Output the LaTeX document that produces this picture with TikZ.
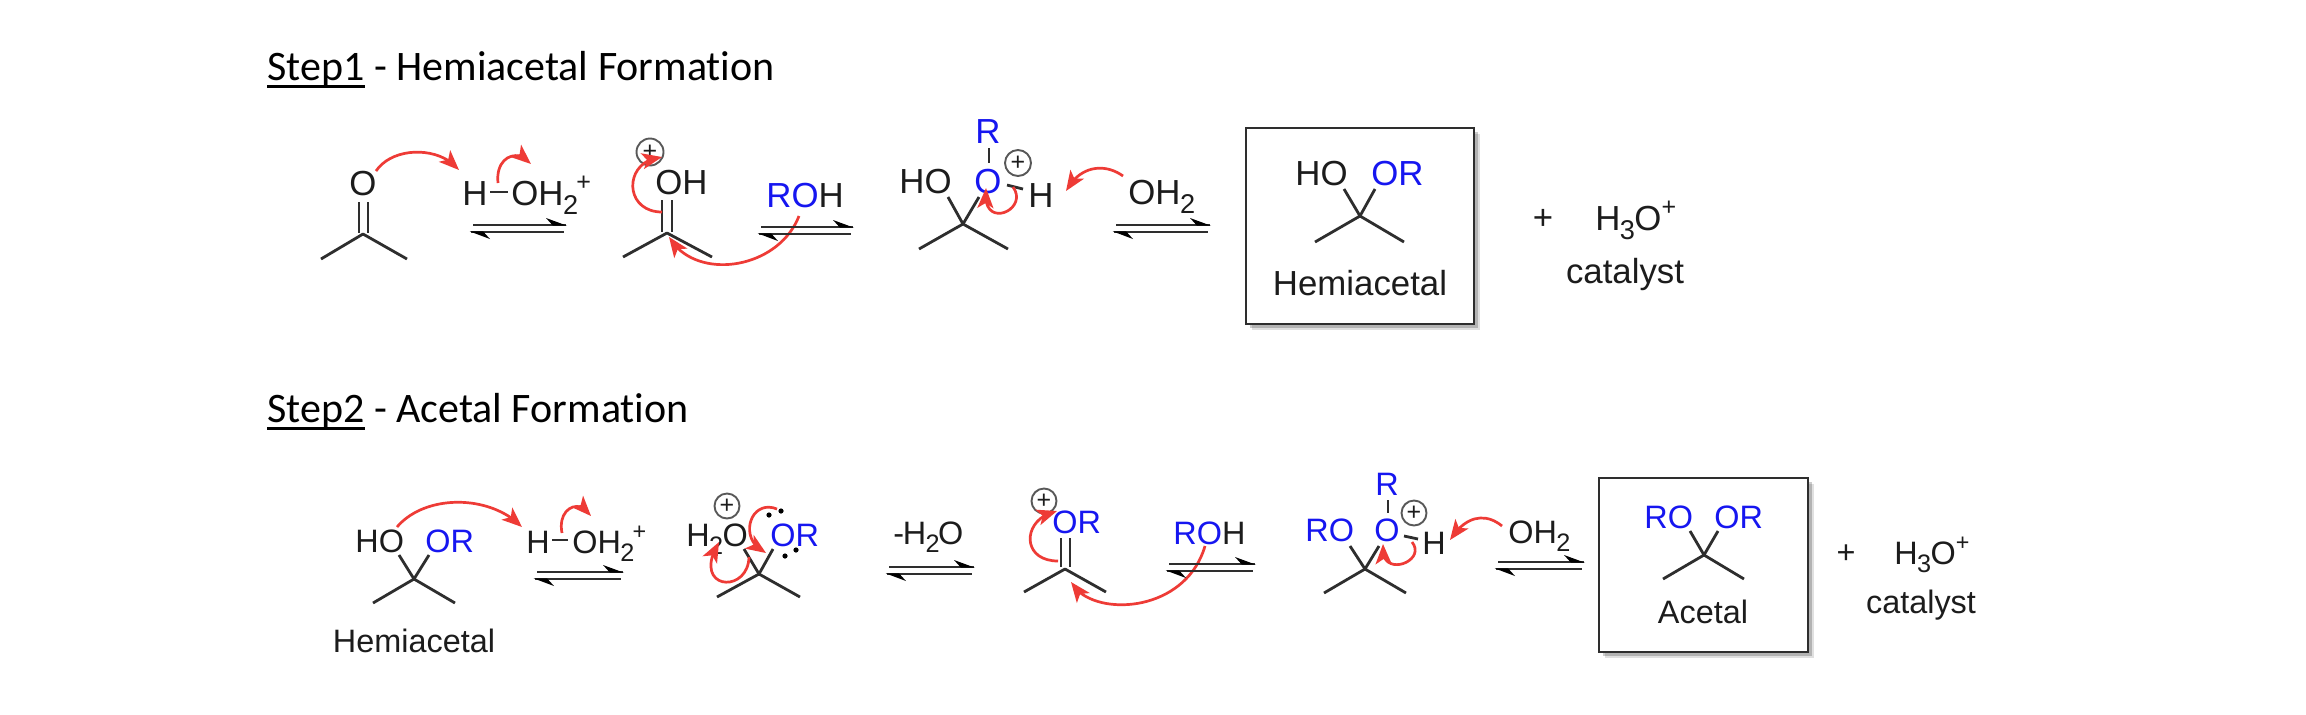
\documentclass[tikz,border=0pt]{standalone}
\usepackage{fontspec}
\setmainfont{Liberation Sans}
\newfontfamily\headfont[Ligatures=NoCommon]{Carlito}
\usetikzlibrary{arrows.meta,bending,shadows}
\definecolor{ink}{HTML}{1C1C1C}
\definecolor{bondc}{HTML}{2E2E2E}
\definecolor{molblue}{HTML}{1616F0}
\definecolor{curlyred}{HTML}{EE3B36}
\newcommand{\lo}[1]{\kern-.3pt\raisebox{-.26em}{\scalebox{.78}{#1}}\kern-.3pt}
\newcommand{\hi}[1]{\raisebox{.42em}{\scalebox{.72}{#1}}}
\newcommand{\bl}[1]{{\color{molblue}#1}}
\newsavebox\ulbox
\newcommand{\ulined}[1]{\sbox\ulbox{#1}\rlap{\raisebox{-4.2pt}{\rule{\wd\ulbox}{1.5pt}}}\usebox\ulbox}
\tikzset{
  x=0.5pt,y=-0.5pt,
  lab/.style={anchor=base west,inner sep=0pt,text=ink},
  clab/.style={anchor=base,inner sep=0pt,text=ink},
  ra/.style={font=\fontsize{17.4}{20}\selectfont},
  rb/.style={font=\fontsize{16.2}{19}\selectfont},
  head/.style={anchor=base west,inner sep=0pt,text=black,font=\headfont\fontsize{21}{25}\selectfont},
  bondline/.style={draw=bondc,line width=1.4pt},
  eqline/.style={draw=bondc,line width=1.3pt},
  eqhead/.style={fill=black},
  curly/.style={draw=curlyred,line width=1.35pt,-{Stealth[length=10pt,width=8pt,inset=2.5pt,flex=0.7]}},
  pluscirc/.style={circle,draw=bondc!80,line width=.95pt,minimum size=12.5pt,inner sep=0pt,text=ink,font=\fontsize{12.5}{12.5}\selectfont},
  prodbox/.style={draw=bondc,line width=1.4pt,fill=white,inner sep=0pt,
    drop shadow={shadow xshift=3pt,shadow yshift=-3pt,opacity=.12,fill=black},
    drop shadow={shadow xshift=1.8pt,shadow yshift=-1.8pt,opacity=.2,fill=black}},
}
% name, start, end
\newcommand{\bond}[3]{\coordinate (#1s) at #2; \coordinate (#1e) at #3; \draw[bondline] (#1s) -- (#1e);}
% name, centre, left end, right end
\newcommand{\skel}[4]{\coordinate (#1c) at #2; \coordinate (#1l) at #3; \coordinate (#1r) at #4;
  \draw[bondline,line join=round] (#1l) -- (#1c) -- (#1r);}
% name, x left top, x right top, y top
\newcommand{\equil}[4]{%
  \coordinate (#1a) at (#2,#4); \coordinate (#1b) at (#3,#4);
  \coordinate (#1d) at (#2-2.5,#4+7); \coordinate (#1f) at (#3-2.5,#4+7);
  \draw[eqline] (#1a) -- (#1b);
  \draw[eqline] (#1d) -- (#1f);
  \fill[eqhead] (#3+1,#4+.7) -- (#3-20,#4-7) -- (#3-13,#4+.7) -- cycle;
  \fill[eqhead] (#2-3.5,#4+6.3) -- (#2+17,#4+14) -- (#2+10,#4+6.3) -- cycle;}
% name, start, c1, c2, tip
\newcommand{\curved}[5]{\coordinate (#1s) at #2; \coordinate (#1e) at #5;
  \draw[curly] (#1s) .. controls #3 and #4 .. (#1e);}
\begin{document}
\begin{tikzpicture}
\useasboundingbox (0,0) rectangle (2306,714);
\fill[white] (0,0) rectangle (2306,714);
% headings
\node[head] (h1) at (267,80) {\ulined{Step1} - Hemiacetal Formation};
\node[head] (h2) at (267,422) {\ulined{Step2} - Acetal Formation};

% ---------- ROW 1 ----------
% acetone
\node[clab,ra] (o1) at (363,195) {O};
\skel{a}{(363,234)}{(321,259)}{(407,259)}
\bond{ad1}{(359,202)}{(359,233)}
\bond{ad2}{(368,202)}{(368,233)}
\curved{r1}{(376,171)}{(393,146)}{(440,146)}{(459,170)}
% hydronium
\node[lab,ra] (h3o1) at (462,205) {H};
\bond{hb1}{(490,192)}{(508,192)}
\node[lab,ra] (oh21) at (511,205) {OH\lo{2}\kern-.6pt\hi{+}};
\curved{r2}{(498,183)}{(495,155)}{(520,148)}{(531,164)}
\equil{e1}{473}{566}{225}
% protonated acetone
\node[pluscirc,minimum size=13.5pt] (p1) at (650,152) {+};
\node[lab,ra] (oh1) at (655,194) {OH};
\skel{b}{(667,233)}{(623,257)}{(712,257)}
\bond{bd1}{(662,200)}{(662,232)}
\bond{bd2}{(672,200)}{(672,232)}
\curved{r3}{(662,212)}{(623,212)}{(623,160)}{(662,157)}
\node[lab,ra] (roh1) at (766,207) {\bl{RO}H};
\curved{r4}{(799,216)}{(778,270)}{(695,282)}{(669,237)}
\equil{e2}{761}{853}{227}
% oxonium
\node[lab,ra] (ho1) at (899,193) {HO};
\node[clab,ra] (oa1) at (988,193) {\bl{O}};
\node[clab,ra] (ra1) at (988,143) {\bl{R}};
\bond{rb1}{(989,148)}{(989,163)}
\node[pluscirc,minimum size=13pt] (p2) at (1018,163) {+};
\bond{hb2}{(1007,185)}{(1023,189)}
\node[lab,ra] (h2a) at (1028,207) {H};
\skel{c}{(963,224)}{(919,249)}{(1008,249)}
\bond{cb1}{(948,197)}{(963,224)}
\bond{cb2}{(979,197)}{(963,224)}
\curved{r5}{(1013,187)}{(1030,210)}{(980,232)}{(986,188)}
\curved{r6}{(1123,176)}{(1105,163)}{(1080,165)}{(1066,191)}
\node[lab,ra] (oh2a) at (1128,204) {OH\lo{2}};
\equil{e3}{1116}{1210}{225}
% hemiacetal box
\node[prodbox,minimum width=114pt,minimum height=98pt] (bx1) at (1360,226) {};
\node[lab,ra] (hob) at (1295,185) {HO};
\node[lab,ra] (orb) at (1371,185) {\bl{OR}};
\skel{d}{(1360,216)}{(1315,242)}{(1404,242)}
\bond{db1}{(1344,189)}{(1360,216)}
\bond{db2}{(1375,189)}{(1360,216)}
\node[clab,ra] (hem1) at (1360,295) {Hemiacetal};
\node[clab,ra] (pl1) at (1543,229) {+};
\node[lab,ra] (cat1) at (1595,230) {H\lo{3}O\hi{+}};
\node[clab,ra] (catb1) at (1625,283) {catalyst};

% ---------- ROW 2 ----------
\node[lab,rb] (ho2) at (355,552) {HO};
\node[lab,rb] (or2) at (425,552) {\bl{OR}};
\skel{f}{(414,579)}{(373,603)}{(455,603)}
\bond{fb1}{(399,555)}{(414,579)}
\bond{fb2}{(429,555)}{(414,579)}
\node[clab,rb] (hem2) at (414,652) {Hemiacetal};
\curved{s1}{(397,527)}{(425,494)}{(490,494)}{(522,527)}
\node[lab,rb] (h3o2) at (526,553) {H};
\bond{hb3}{(552,540)}{(568,540)}
\node[lab,rb] (oh22) at (572,553) {OH\lo{2}\kern-.6pt\hi{+}};
\curved{s2}{(562,533)}{(557,508)}{(580,497)}{(591,516)}
\equil{e4}{537}{623}{572}
% protonated hemiacetal
\node[pluscirc] (p3) at (727,506) {+};
\node[lab,rb] (h2o) at (686,546) {H\lo{2}O};
\node[lab,rb] (or3) at (770,546) {\bl{OR}};
\skel{g}{(759,574)}{(717,597)}{(800,597)}
\bond{gb1}{(744,549)}{(759,574)}
\bond{gb2}{(773,549)}{(759,574)}
\curved{s3}{(749,557)}{(748,595)}{(690,590)}{(719,542)}
\curved{s4}{(777,509)}{(750,498)}{(737,540)}{(766,553)}
\fill[black] (769,515) circle (2.6) (781,511) circle (2.6) (785,556) circle (2.6) (796,550) circle (2.6);
% -H2O
\node[lab,rb] (mh2o) at (893,544) {-\kern-.7pt H\lo{2}\kern-.5pt O};
\equil{e5}{889}{974}{567}
% oxocarbenium
\node[pluscirc] (p4) at (1044,501) {+};
\node[lab,rb] (or4) at (1052,533) {\bl{OR}};
\skel{i}{(1065,569)}{(1024,592)}{(1106,592)}
\bond{id1}{(1061,538)}{(1061,567)}
\bond{id2}{(1070,538)}{(1070,567)}
\curved{s5}{(1058,561)}{(1020,561)}{(1022,518)}{(1057,511)}
\node[lab,rb] (roh2) at (1173,544) {\bl{RO}H};
\curved{s6}{(1205,546)}{(1185,615)}{(1090,618)}{(1071,582)}
\equil{e6}{1169}{1255}{564}
% oxonium 2
\node[lab,rb] (ro1) at (1305,541) {\bl{RO}};
\node[clab,rb] (ob) at (1387,541) {\bl{O}};
\node[clab,rb] (rb2) at (1387,495) {\bl{R}};
\bond{rb3}{(1388,500)}{(1388,513)}
\node[pluscirc] (p5) at (1414,513) {+};
\bond{hb4}{(1404,536)}{(1418,539)}
\node[lab,rb] (h4) at (1422,554) {H};
\skel{j}{(1365,569)}{(1324,593)}{(1406,593)}
\bond{jb1}{(1350,546)}{(1365,569)}
\bond{jb2}{(1379,546)}{(1365,569)}
\curved{s7}{(1412,542)}{(1428,562)}{(1378,580)}{(1383,544)}
\curved{s8}{(1502,526)}{(1485,512)}{(1465,516)}{(1450,540)}
\node[lab,rb] (oh2b) at (1508,543) {OH\lo{2}};
\equil{e7}{1498}{1584}{562}
% acetal box
\node[prodbox,minimum width=104.5pt,minimum height=87pt] (bx2) at (1703.5,565) {};
\node[lab,rb] (rob) at (1644,528) {\bl{RO}};
\node[lab,rb] (orc) at (1714,528) {\bl{OR}};
\skel{k}{(1704,555)}{(1663,579)}{(1744,579)}
\bond{kb1}{(1690,531)}{(1704,555)}
\bond{kb2}{(1718,531)}{(1704,555)}
\node[clab,rb] (ace) at (1703,623) {Acetal};
\node[clab,rb] (pl2) at (1846,563) {+};
\node[lab,rb] (cat2) at (1894,564) {H\lo{3}O\hi{+}};
\node[clab,rb] (catb2) at (1921,613) {catalyst};
\end{tikzpicture}
\end{document}
